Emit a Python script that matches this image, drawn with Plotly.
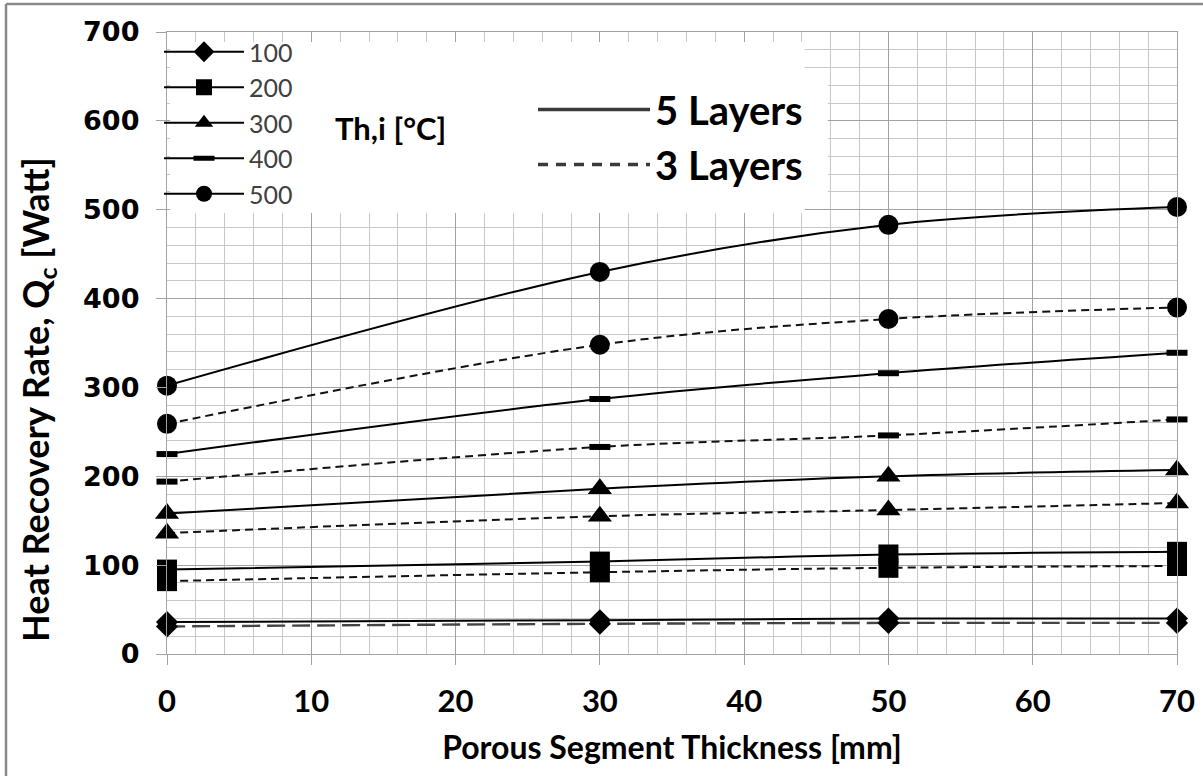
import plotly.graph_objects as go

# ---------------- data ----------------
thickness = [0, 30, 50, 70]  # mm
temps = ["100", "200", "300", "400", "500"]
q5_100 = [36, 38, 40, 40]
q5_200 = [95, 104, 112, 115]
q5_300 = [158, 186, 200, 207]
q5_400 = [225, 287, 316, 339]
q5_500 = [302, 430, 483, 503]
q3_100 = [31, 34, 35, 35]
q3_200 = [82, 92, 97, 99]
q3_300 = [136, 155, 162, 170]
q3_400 = [194, 233, 246, 264]
q3_500 = [259, 348, 377, 390]

five_layers = [q5_100, q5_200, q5_300, q5_400, q5_500]
three_layers = [q3_100, q3_200, q3_300, q3_400, q3_500]
x_ticks = [0, 10, 20, 30, 40, 50, 60, 70]
y_ticks = [0, 100, 200, 300, 400, 500, 600, 700]

# ---------------- styles ----------------
symbols = ["diamond", "square", "triangle-up", "line-ew", "circle"]
sizes = [17, 20, 21, 15, 20]
dash3 = ["18px,7px", "8px,5px", "8px,5px", "8px,5px", "8px,5px"]
dash3_color = ["#444444", "#111111", "#111111", "#111111", "#111111"]
dash3_width = [2.4, 2, 2, 2, 2]

FONT = "Lato"
fig = go.Figure()


def marker_for(i):
    if symbols[i] == "line-ew":
        return dict(symbol="line-ew", size=sizes[i], color="black",
                    line=dict(color="black", width=6))
    return dict(symbol=symbols[i], size=sizes[i], color="black",
                line=dict(color="black", width=0))


for i, t in enumerate(temps):
    fig.add_trace(go.Scatter(
        x=thickness, y=three_layers[i], mode="lines+markers",
        line=dict(color=dash3_color[i], width=dash3_width[i], dash=dash3[i],
                  shape="spline", smoothing=1),
        marker=marker_for(i), legendgroup=t, showlegend=False,
        cliponaxis=False, name=t + " (3 Layers)"))
    fig.add_trace(go.Scatter(
        x=thickness, y=five_layers[i], mode="lines+markers",
        line=dict(color="black", width=2, shape="spline", smoothing=1),
        marker=marker_for(i), legendgroup=t, showlegend=True, legend="legend",
        cliponaxis=False, name=t))

# legend-only entries for layer style
fig.add_trace(go.Scatter(x=[None], y=[None], mode="lines", name="5 Layers",
                         line=dict(color="#3a3a3a", width=3.5),
                         legend="legend2", legendgroup="L5"))
fig.add_trace(go.Scatter(x=[None], y=[None], mode="lines", name="3 Layers",
                         line=dict(color="#3a3a3a", width=3.5, dash="10px,8px"),
                         legend="legend2", legendgroup="L3"))

# white boxes behind the legends (cover the grid)
fig.add_shape(type="rect", xref="x", yref="y", x0=0.22, x1=44.2, y0=496.3, y1=688.7,
              fillcolor="white", line=dict(width=0), layer="between")
fig.add_shape(type="rect", xref="x", yref="y", x0=44.1, x1=45.8, y0=511, y1=657,
              fillcolor="white", line=dict(width=0), layer="between")

# outer chart border (top and left visible)
fig.add_shape(type="line", xref="paper", yref="paper", x0=-0.1594, x1=1.05,
              y0=1.0450, y1=1.0450, line=dict(color="#8a8a8a", width=2.5))
fig.add_shape(type="line", xref="paper", yref="paper", x0=-0.1594, x1=-0.1594,
              y0=-0.3, y1=1.0450, line=dict(color="#8a8a8a", width=2.5))

fig.add_annotation(text="<b>Th,i [°C]</b>", showarrow=False,
                   x=(333 - 167) / 1010, y=(654 - 128) / 622, xref="paper", yref="paper",
                   xanchor="left", yanchor="middle",
                   font=dict(family=FONT, size=31, color="black"))

# y-axis title (placed as in the reference, slightly below centre)
fig.add_annotation(text="<b>Heat Recovery Rate, Q<sub>c</sub> [Watt]</b>", showarrow=False,
                   textangle=-90, x=(37 - 167) / 1010, y=(654 - 400) / 622,
                   xref="paper", yref="paper", xanchor="center", yanchor="middle",
                   font=dict(family=FONT, size=36, color="black"))

major_grid = "#a2a2a2"
minor_grid = "#c8c8c8"

fig.update_layout(
    width=1203, height=776,
    margin=dict(l=167, r=26, t=32, b=122, autoexpand=False),
    paper_bgcolor="white", plot_bgcolor="white",
    font=dict(family=FONT, color="black"),
    legend=dict(x=(159 - 167) / 1010, y=(654 - 29) / 622, xanchor="left", yanchor="top",
                bgcolor="rgba(0,0,0,0)", borderwidth=0, itemwidth=80,
                font=dict(family=FONT, size=25, color="#404040"),
                tracegroupgap=0, traceorder="grouped", itemsizing="trace"),
    legend2=dict(x=(533 - 167) / 1010, y=(654 - 77) / 622, xanchor="left", yanchor="top",
                 bgcolor="rgba(0,0,0,0)", borderwidth=0, itemwidth=112,
                 font=dict(family=FONT, size=40, color="black", weight="bold"),
                 tracegroupgap=0, traceorder="grouped"),
    showlegend=True,
)

fig.update_xaxes(
    range=[0, 70], tickvals=x_ticks, ticktext=[str(v) for v in x_ticks],
    showgrid=True, gridcolor=major_grid, gridwidth=1.3,
    minor=dict(dtick=2, showgrid=True, gridcolor=minor_grid, gridwidth=1.3),
    ticks="outside", ticklen=10, tickcolor=major_grid, tickwidth=1.3,
    showline=True, linecolor=major_grid, linewidth=1.3, mirror=True,
    zeroline=False, ticklabelstandoff=10,
    tickfont=dict(family=FONT, size=31, color="black", weight="bold"),
    title=dict(text="<b>Porous Segment Thickness [mm]</b>", standoff=18,
               font=dict(family=FONT, size=32, color="black")),
)
fig.update_yaxes(
    range=[0, 700], tickvals=y_ticks, ticktext=[str(v) for v in y_ticks],
    showgrid=True, gridcolor=major_grid, gridwidth=1.3,
    minor=dict(dtick=20, showgrid=True, gridcolor=minor_grid, gridwidth=1.3),
    ticks="outside", ticklen=10, tickcolor=major_grid, tickwidth=1.3,
    showline=True, linecolor=major_grid, linewidth=1.3, mirror=True,
    zeroline=False, ticklabelstandoff=11,
    tickfont=dict(family="DejaVu Sans", size=27, color="black", weight="bold"),
)

fig.write_html("out.html")
